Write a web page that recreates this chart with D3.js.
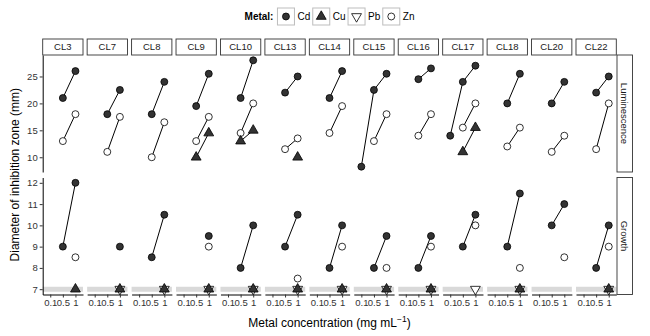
<!DOCTYPE html>
<html>
<head>
<meta charset="UTF-8">
<style>
  body { margin: 0; background: #fff; }
  svg { font-family: "Liberation Sans", Arial, sans-serif; }
</style>
</head>
<body>
<svg width="650" height="336"></svg>
<script src="https://cdnjs.cloudflare.com/ajax/libs/d3/7.8.5/d3.min.js"></script>
<script>

const clones = ["CL3", "CL7", "CL8", "CL9", "CL10", "CL13", "CL14", "CL15", "CL16", "CL17", "CL18", "CL20", "CL22"];
const concs = ["0.1", "0.5", "1"];
const metals = ["Cd", "Cu", "Pb", "Zn"];
const assays = ["Luminescence", "Growth"];
const lumTicks = [10, 15, 20, 25];
const growthTicks = [7, 8, 9, 10, 11, 12];
const growthBaseline = 7;

// values at 0.1 / 0.5 / 1 mg/mL, null = not plotted
const lumCd = {
    CL3: [null, 21, 26], CL7: [null, 18, 22.5], CL8: [null, 18, 24], CL9: [null, 19.5, 25.5],
    CL10: [null, 21, 28], CL13: [null, 22, 25], CL14: [null, 21, 26], CL15: [8.25, 22.5, 25.5],
    CL16: [null, 24.5, 26.5], CL17: [14, 24, 27], CL18: [null, 20, 25.5], CL20: [null, 20, 24],
    CL22: [null, 22, 25]
};
const lumCu = {
    CL9: [null, 10, 14.5], CL10: [null, 13, 15], CL13: [null, null, 10], CL17: [null, 11, 15.5]
};
const lumPb = {};
const lumZn = {
    CL3: [null, 13, 18], CL7: [null, 11, 17.5], CL8: [null, 10, 16.5], CL9: [null, 13, 17.5],
    CL10: [null, 14.5, 20], CL13: [null, 11.5, 13.5], CL14: [null, 14.5, 19.5], CL15: [null, 13, 18],
    CL16: [null, 14, 18], CL17: [null, 15.5, 20], CL18: [null, 12, 15.5], CL20: [null, 11, 14],
    CL22: [null, 11.5, 20]
};

const growthCd = {
    CL3: [null, 9, 12], CL7: [null, null, 9], CL8: [null, 8.5, 10.5], CL9: [null, null, 9.5],
    CL10: [null, 8, 10], CL13: [null, 9, 10.5], CL14: [null, 8, 10], CL15: [null, 8, 9.5],
    CL16: [null, 8, 9.5], CL17: [null, 9, 10.5], CL18: [null, 9, 11.5], CL20: [null, 10, 11],
    CL22: [null, 8, 10]
};
const growthCu = {
    CL3: [null, null, 7], CL7: [null, null, 7], CL8: [null, null, 7], CL9: [null, null, 7],
    CL10: [null, null, 7], CL13: [null, null, 7], CL14: [null, null, 7], CL15: [null, null, 7],
    CL16: [null, null, 7], CL18: [null, null, 7], CL22: [null, null, 7]
};
const growthPb = {
    CL7: [null, null, 7], CL8: [null, null, 7], CL9: [null, null, 7], CL10: [null, null, 7],
    CL13: [null, null, 7], CL14: [null, null, 7], CL15: [null, null, 7], CL16: [null, null, 7],
    CL17: [null, null, 7], CL18: [null, null, 7], CL22: [null, null, 7]
};
const growthZn = {
    CL3: [null, null, 8.5], CL9: [null, null, 9], CL13: [null, null, 7.5], CL14: [null, null, 9],
    CL15: [null, null, 8], CL16: [null, null, 9], CL17: [null, null, 10], CL18: [null, null, 8],
    CL20: [null, null, 8.5], CL22: [null, null, 9]
};

let svg = d3.select("svg");

let series = {
    Luminescence: { Cd: lumCd, Cu: lumCu, Pb: lumPb, Zn: lumZn },
    Growth: { Cd: growthCd, Cu: growthCu, Pb: growthPb, Zn: growthZn }
};

// flatten into observations
let obs = [];
assays.forEach(a => metals.forEach(m => {
    Object.entries(series[a][m]).forEach(([clone, vals]) => {
        vals.forEach((v, j) => {
            if (v != null) obs.push({ assay: a, metal: m, clone: clone, conc: concs[j], value: v });
        });
    });
}));

// layout scales
let col = d3.scaleBand().domain(clones).range([42.7, 616.3]).paddingInner(0.093).paddingOuter(0);
let row = d3.scaleBand().domain(assays).range([55, 294.5]).paddingInner(0.045).paddingOuter(0);
let x = d3.scalePoint().domain(concs).range([0, col.bandwidth()]).padding(0.6);

function expand(ext) {
    let d = (ext[1] - ext[0]) * 0.05;
    return [ext[0] - d, ext[1] + d];
}
let y = {};
assays.forEach(a => {
    let ext = d3.extent(obs.filter(o => o.assay === a), o => o.value);
    y[a] = d3.scaleLinear().domain(expand(ext)).range([row(a) + row.bandwidth(), row(a)]);
});
let ticks = { Luminescence: lumTicks, Growth: growthTicks };

let fillOf = { Cd: "#333", Cu: "#333", Pb: "#fff", Zn: "#fff" };
function shapePath(m) {
    if (m === "Cu" || m === "Pb") return d3.symbol(d3.symbolTriangle).size(42)();
    return d3.symbol(d3.symbolCircle).size(38)();
}
function drawMarker(g, m) {
    g.append("path")
        .attr("d", shapePath(m))
        .attr("transform", m === "Pb" ? "rotate(180)" : null)
        .attr("fill", fillOf[m])
        .attr("stroke", "#000")
        .attr("stroke-width", 0.8);
}

// gray baseline band in growth panels
svg.append("g").selectAll("line")
    .data(clones)
    .enter()
    .append("line")
    .attr("x1", c => col(c))
    .attr("x2", c => col(c) + col.bandwidth())
    .attr("y1", y.Growth(growthBaseline))
    .attr("y2", y.Growth(growthBaseline))
    .attr("stroke", "#d9d9d9")
    .attr("stroke-width", 5);

// lines per assay / clone / metal
let groups = d3.groups(obs, o => o.assay, o => o.clone, o => o.metal);
let lineData = [];
groups.forEach(([a, byClone]) => byClone.forEach(([c, byMetal]) => byMetal.forEach(([m, pts]) => {
    if (pts.length > 1) lineData.push({ assay: a, clone: c, pts: pts });
})));

svg.append("g").selectAll("path")
    .data(lineData)
    .enter()
    .append("path")
    .attr("fill", "none")
    .attr("stroke", "#000")
    .attr("stroke-width", 1)
    .attr("d", d => d3.line()
        .x(p => col(p.clone) + x(p.conc))
        .y(p => y[p.assay](p.value))(d.pts));

// points; Cu sits on top of Pb like in the original
let pointG = svg.append("g");
["Zn", "Pb", "Cu", "Cd"].forEach(m => {
    obs.filter(o => o.metal === m).forEach(o => {
        let g = pointG.append("g")
            .attr("transform", "translate(" + (col(o.clone) + x(o.conc)) + "," + y[o.assay](o.value) + ")");
        drawMarker(g, m);
    });
});

// left axes
assays.forEach(a => {
    let ax = svg.append("g")
        .attr("transform", "translate(" + col(clones[0]) + ",0)")
        .call(d3.axisLeft(y[a]).tickValues(ticks[a]).tickFormat(d3.format("d"))
            .tickSize(3).tickSizeOuter(0).tickPadding(2));
    ax.select(".domain").attr("stroke", "#000");
    ax.selectAll(".tick line").attr("stroke", "#333");
    ax.selectAll("text").attr("font-size", "9.5px").attr("fill", "#333")
        .attr("font-family", "Liberation Sans, Arial, sans-serif");
});

// bottom axes under growth row
clones.forEach(c => {
    let ax = svg.append("g")
        .attr("transform", "translate(" + col(c) + "," + (row("Growth") + row.bandwidth()) + ")")
        .call(d3.axisBottom(x).tickSize(3).tickSizeOuter(0).tickPadding(2));
    ax.select(".domain").attr("stroke", "#000");
    ax.selectAll(".tick line").attr("stroke", "#333");
    ax.selectAll("text").attr("font-size", "9.5px").attr("fill", "#333")
        .attr("font-family", "Liberation Sans, Arial, sans-serif");
});

// top strips
let strips = svg.append("g").selectAll("g")
    .data(clones)
    .enter()
    .append("g")
    .attr("transform", c => "translate(" + col(c) + ",39)");
strips.append("rect")
    .attr("width", col.bandwidth())
    .attr("height", 16)
    .attr("fill", "#fff")
    .attr("stroke", "#333")
    .attr("stroke-width", 0.9);
strips.append("text")
    .attr("x", col.bandwidth() / 2)
    .attr("y", 8)
    .attr("dy", "0.35em")
    .attr("text-anchor", "middle")
    .attr("font-size", "9.5px")
    .attr("fill", "#1a1a1a")
    .text(c => c);

// right strips
let rstrips = svg.append("g").selectAll("g")
    .data(assays)
    .enter()
    .append("g")
    .attr("transform", a => "translate(617," + row(a) + ")");
rstrips.append("rect")
    .attr("width", 15.5)
    .attr("height", row.bandwidth())
    .attr("fill", "#fff")
    .attr("stroke", "#333")
    .attr("stroke-width", 0.9);
rstrips.append("text")
    .attr("transform", "translate(7.75," + row.bandwidth() / 2 + ") rotate(90)")
    .attr("dy", "0.35em")
    .attr("text-anchor", "middle")
    .attr("font-size", "9.5px")
    .attr("fill", "#1a1a1a")
    .text(a => a);

// axis titles
let midX = (col.range()[0] + col.range()[1]) / 2;
let xt = svg.append("text")
    .attr("x", midX)
    .attr("y", 327)
    .attr("text-anchor", "middle")
    .attr("font-size", "12px")
    .attr("fill", "#000");
xt.append("tspan").text("Metal concentration (mg mL");
xt.append("tspan").attr("dy", -5).attr("font-size", "8.5px").text("\u22121");
xt.append("tspan").attr("dy", 5).text(")");

svg.append("text")
    .attr("transform", "translate(15," + (row.range()[0] + row.range()[1]) / 2 + ") rotate(-90)")
    .attr("dy", "0.35em")
    .attr("text-anchor", "middle")
    .attr("font-size", "12px")
    .attr("fill", "#000")
    .text("Diameter of inhibition zone (mm)");

// legend
let legend = svg.append("g");
let title = legend.append("text")
    .attr("x", 0).attr("y", 16.5).attr("dy", "0.35em")
    .attr("font-size", "10px").attr("font-weight", "bold")
    .text("Metal:");
let lx = title.node().getComputedTextLength() + 4;
metals.forEach(m => {
    legend.append("rect")
        .attr("x", lx).attr("y", 8).attr("width", 17).attr("height", 17)
        .attr("fill", "#fff").attr("stroke", "#bdbdbd").attr("stroke-width", 1);
    let g = legend.append("g").attr("transform", "translate(" + (lx + 8.5) + ",16.5)");
    drawMarker(g, m);
    let t = legend.append("text")
        .attr("x", lx + 20).attr("y", 16.5).attr("dy", "0.35em")
        .attr("font-size", "10px")
        .text(m);
    lx += 20 + t.node().getComputedTextLength() + 2.5;
});
let lw = legend.node().getBBox().width;
legend.attr("transform", "translate(" + (midX - lw / 2) + ",0)");

</script>
</body>
</html>
